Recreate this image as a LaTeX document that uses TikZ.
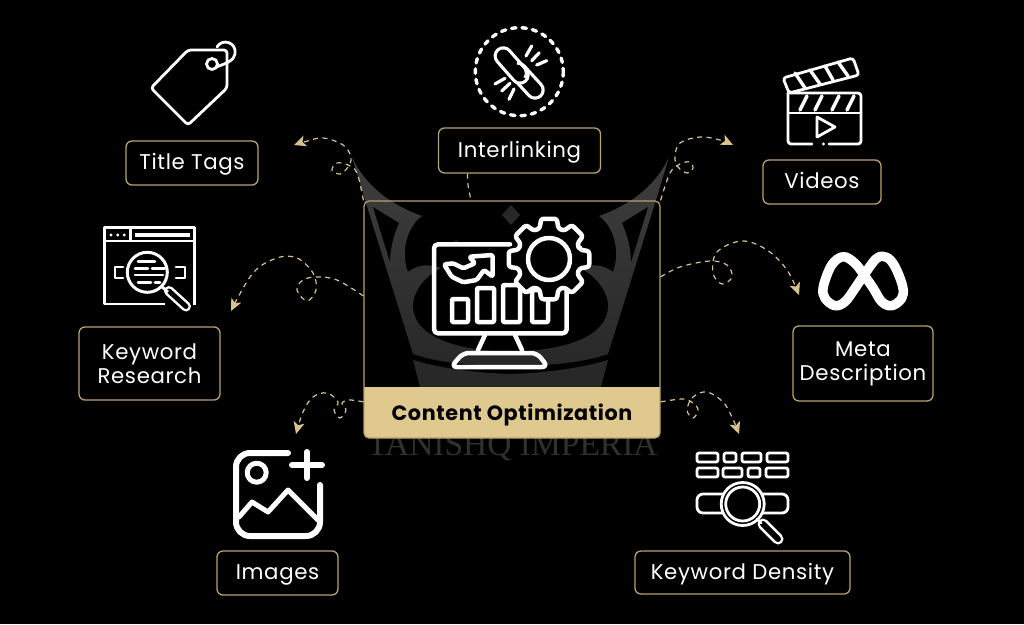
\documentclass[tikz,border=0pt]{standalone}
\usepackage{fontspec}
\setmainfont{Poppins}[LetterSpace=3]
\newfontfamily\markfont{Liberation Serif}
\usetikzlibrary{arrows.meta,positioning}
\definecolor{goldfill}{HTML}{E0C98F}
\definecolor{goldline}{HTML}{B8A26E}
\definecolor{goldlink}{HTML}{D8C38C}
\definecolor{crownlight}{HTML}{3E3E3E}
\definecolor{crowndark}{HTML}{282828}
\definecolor{markgray}{HTML}{303030}
\tikzset{
    lab/.style={draw=goldline,line width=1.3pt,rounded corners=6pt,inner sep=0pt,text=white,align=center,font=\fontsize{21.3}{24}\selectfont},
    oneline/.style={text height=16.5pt,text depth=3.5pt},
    link/.style={goldlink,line width=1.2pt,dash pattern=on 5pt off 4.5pt},
    tip/.style={-{Stealth[length=12pt,width=11pt,inset=3pt,goldlink]}},
    thin icon/.style={white,line width=2.8pt,line join=round,line cap=round},
    thick icon/.style={white,line width=4.5pt,line join=round,line cap=round},
    fat icon/.style={white,line width=6pt,line join=round,line cap=round}
}
\newcommand{\crownhalf}{
    \shade [top color=crownlight,bottom color=crowndark] (352,157) .. controls (362,180) and (385,203) .. (422,216)
        .. controls (408,226) and (400,250) .. (408,272)
        .. controls (418,264) and (430,264) .. (441,268)
        .. controls (425,276) and (412,292) .. (413,308)
        .. controls (415,335) and (450,350) .. (511,352)
        -- (511,366) .. controls (470,366) and (435,362) .. (413,354)
        -- (365,200) -- cycle;
    \fill [black] (373,207) -- (399,223) .. controls (393,236) and (390,250) .. (390,262) -- cycle;
    \fill [crowndark] (413,360) .. controls (440,368) and (475,373) .. (511,374) -- (511,387) -- (420,387) -- cycle;
    \fill [crowndark] (456,240) -- (462,246) -- (450,246) -- cycle;
}
\begin{document}
\begin{tikzpicture}[x=1pt,y=-1pt]
    \fill [black] (0,0) rectangle (1024,624);
    \crownhalf
    \begin{scope}[shift={(1021,0)},xscale=-1]
        \crownhalf
    \end{scope}
    \fill [crowndark] (511,205) -- (520,215) -- (511,225) -- (502,215) -- cycle;
    \draw (512.5,447) node [markgray,font=\markfont\fontsize{33.5}{36}\selectfont] (wmark) {TANISHQ IMPERIA};
    \fill [goldfill] (364,387) [sharp corners] -- (660,387) [rounded corners=5pt] -- (660,438) -- (364,438) [sharp corners] -- cycle;
    \draw (512,319.5) node [draw=goldline,line width=1.2pt,rounded corners=5pt,minimum width=296pt,minimum height=237pt] (mainbox) {};
    \draw (512,413) node [text=black,text height=15pt,text depth=1pt,font=\fontsize{20.7}{24}\selectfont\bfseries] (mainlab) {Content Optimization};
    \draw (192,163) node [lab,oneline,minimum width=132pt,minimum height=44pt] (titlebox) {Title Tags};
    \draw (519.5,150.5) node [lab,oneline,minimum width=162pt,minimum height=45pt] (interbox) {Interlinking};
    \draw (822,182) node [lab,oneline,minimum width=118pt,minimum height=44pt] (videobox) {Videos};
    \draw (149.5,363.5) node [lab,minimum width=141pt,minimum height=73pt] (researchbox) {Keyword\\Research};
    \draw (863,363.5) node [lab,minimum width=140pt,minimum height=75pt] (metabox) {Meta\\Description};
    \draw (277.5,573) node [lab,oneline,minimum width=121pt,minimum height=44pt] (imagebox) {Images};
    \draw (742.5,572.5) node [lab,oneline,minimum width=215pt,minimum height=43pt] (densitybox) {Keyword Density};
    \coordinate (titletip) at (294,145);
    \coordinate (videotip) at (733,145);
    \coordinate (researchtip) at (231,311);
    \coordinate (metatip) at (799,295);
    \coordinate (imagetip) at (296,434);
    \coordinate (densitytip) at (739,434);
    \draw [link,tip] plot [smooth,tension=0.6] coordinates {(mainbox.north west) (357,173) (348,165) (337,163) (332,170) (340,174) (348,167) (351,157) (343,145) (323,138) (304,142) (titletip)};
    \draw [link] plot [smooth] coordinates {(interbox.204) (468,185) (mainbox.109)};
    \draw [link,tip] plot [smooth,tension=0.6] coordinates {(mainbox.north east) (670,173) (680,164) (690,162) (693,168) (687,173) (678,167) (675,157) (680,143) (700,137) (720,140) (videotip)};
    \draw [link,tip] plot [smooth,tension=0.6] coordinates {(mainbox.171) (337,280) (317,277) (303,280) (297,290) (307,301) (316,290) (313,273) (297,258) (277,258) (253,273) (researchtip)};
    \draw [link,tip] plot [smooth,tension=0.6] coordinates {(mainbox.16) (680,267) (710,261) (727,265) (732,277) (722,284) (713,273) (717,252) (742,241) (767,250) (787,270) (metatip)};
    \draw [link,tip] plot [smooth,tension=0.6] coordinates {(mainbox.209) (350,400) (342,403) (346,410) (340,418) (334,410) (338,402) (327,393) (313,397) (303,412) (imagetip)};
    \draw [link,tip] plot [smooth,tension=0.6] coordinates {(mainbox.-29) (683,399) (693,403) (698,410) (693,418) (687,410) (693,397) (707,392) (723,402) (732,417) (densitytip)};
    \draw [thin icon,rounded corners=3pt] (151,88) -- (188,50) -- (227,50) -- (227,88) -- (188,125) -- cycle;
    \draw [thin icon] (212,64) circle (5.5);
    \draw [thin icon] (217,47) .. controls (222,38) and (237,42) .. (235,54) .. controls (234,60) and (228,63) .. (216,67);
    \draw [thin icon,dash pattern=on 4.5pt off 6pt,line width=3.4pt] (519.3,71.7) circle (44);
    \draw [white,line width=19.5pt,line cap=round] (518.3,71.7) -- (535,90);
    \draw [black,line width=13pt,line cap=round] (518.3,71.7) -- (535,90);
    \draw [white,line width=19.5pt,line cap=round] (503.3,56) -- (520,75);
    \draw [black,line width=13pt,line cap=round] (503.3,56) -- (520,75);
    \draw [white,line width=3.2pt] (517,63) .. controls (524,63) and (529,71) .. (525,78);
    \draw [thin icon,line width=3.2pt] (526,56) -- (531.7,46);
    \draw [thin icon,line width=3.2pt] (531.7,60.7) -- (539.3,52.7);
    \draw [thin icon,line width=3.2pt] (536.7,65) -- (546.7,60.7);
    \draw [thin icon,line width=3.2pt] (495,84) -- (505,78.3);
    \draw [thin icon,line width=3.2pt] (501.7,91) -- (510,83.3);
    \draw [thin icon,line width=3.2pt] (509,99.3) -- (514,89);
    \draw [thin icon,rounded corners=3pt] (788,93) -- (861,93) -- (861,144) -- (829,144);
    \draw [thin icon,rounded corners=3pt] (812,144) -- (788,144) -- (788,93);
    \fill [white] (823.5,144) circle (1.7);
    \draw [thin icon] (788,113) -- (861,113);
    \draw [thin icon,line width=3.4pt] (800,110) -- (807,96);
    \draw [thin icon,line width=3.4pt] (815,110) -- (822,96);
    \draw [thin icon,line width=3.4pt] (832,110) -- (839,96);
    \draw [thin icon,line width=3.4pt] (847,110) -- (854,96);
    \draw [thin icon,rounded corners=3pt] (783,78) -- (853,58) -- (859,75) -- (789,93) -- cycle;
    \draw [thin icon,line width=3.4pt] (795,73) -- (805,88);
    \draw [thin icon,line width=3.4pt] (810,70) -- (820,84);
    \draw [thin icon,line width=3.4pt] (825,66) -- (833,80);
    \draw [thin icon,line width=3.4pt] (838,62) -- (848,76);
    \draw [thin icon] (817,117) -- (835,127) -- (817,137) -- cycle;
    \draw [white,line width=9.5pt,line join=round] plot [smooth cycle,tension=0.6] coordinates {(823.3,286.7) (831.7,265) (843.3,256.7) (855,263.3) (864,275) (873.3,288.3) (881.7,301.7) (891.7,305.7) (901.7,298.3) (902.7,286.7) (895,266.7) (886.7,257.3) (876.7,258.3) (864,275) (855,288.3) (845,301.7) (835,305.7) (825,298.3)};
    \draw [thin icon,line cap=butt] (165,304) -- (104.5,304) -- (104.5,227.5) -- (194.5,227.5) -- (194.5,305);
    \draw [thin icon,line cap=butt] (104.5,241) -- (194.5,241);
    \draw [thin icon,line cap=butt] (130.5,227.5) -- (130.5,241);
    \fill [white] (135,233) rectangle (190,236.5);
    \fill [white] (111,235) circle (1.6);
    \fill [white] (117.7,235) circle (1.6);
    \fill [white] (124.3,235) circle (1.6);
    \draw [thin icon,fill=black,line width=3pt] (147.3,272.3) circle (20);
    \draw [white,line width=10pt,line cap=round] (169,291) -- (186,306.5);
    \draw [black,line width=5pt,line cap=round] (169,291) -- (186,306.5);
    \draw [white,line width=2.8pt] (161,286) -- (168,292);
    \draw [thin icon] (138,261.7) -- (155,261.7);
    \draw [thin icon] (135,268.3) -- (148,268.3);
    \draw [thin icon] (152,268.3) -- (165,268.3);
    \draw [thin icon] (135,275) -- (163,275);
    \draw [thin icon] (138,282.3) -- (151,282.3);
    \draw [thin icon] (155,282.3) -- (160,282.3);
    \draw [thin icon] (123,267) -- (115,267) -- (115,278) -- (123,278);
    \draw [thin icon] (176,267) -- (185,267) -- (185,278) -- (176,278);
    \draw [fat icon,rounded corners=14pt] (288,453) -- (236,453) -- (236,536) -- (320,536) -- (320,485);
    \draw [fat icon] (292,465) -- (322,465);
    \draw [fat icon] (306.7,452) -- (306.7,478);
    \draw [fat icon,line width=5pt] (256.7,472.7) circle (9.5);
    \draw [fat icon,line width=5pt] (239,517) -- (252,502) -- (268,512) -- (288,490) -- (318,520);
    \draw [thin icon,rounded corners=2pt] (697,453) rectangle (718,462);
    \draw [thin icon,rounded corners=2pt] (724,453) rectangle (736,462);
    \draw [thin icon,rounded corners=2pt] (742,453) rectangle (761,462);
    \draw [thin icon,rounded corners=2pt] (767,453) rectangle (788,462);
    \draw [thin icon,rounded corners=2pt] (697,468) rectangle (718,477);
    \draw [thin icon,rounded corners=2pt] (723,468) rectangle (742,477);
    \draw [thin icon,rounded corners=2pt] (748,468) rectangle (760,477);
    \draw [thin icon,rounded corners=2pt] (766,468) rectangle (788,477);
    \draw [thin icon,rounded corners=6pt] (697,494) rectangle (788,513);
    \draw [thin icon,fill=black] (742.7,504) circle (21.5);
    \draw [thin icon] (742.7,504) circle (17);
    \draw [white,line width=11pt,line cap=round] (763,524) -- (778,539);
    \draw [black,line width=6pt,line cap=round] (763,524) -- (778,539);
    \draw [thin icon] (757,519) -- (761,523);
    \draw [thick icon,rounded corners=4pt] (510,244.3) -- (434,244.3) -- (434,333.3) -- (566.7,333.3) -- (566.7,290);
    \draw [thick icon] (485,335) -- (478,350);
    \draw [thick icon] (515,335) -- (522,350);
    \draw [thick icon,rounded corners=6pt] (463,353) -- (537,353) -- (548,367) -- (451,367) -- cycle;
    \draw [thick icon,rounded corners=1pt] (452,299) rectangle (468,322);
    \draw [thick icon,rounded corners=1pt] (477,288) rectangle (494,322);
    \draw [thick icon,rounded corners=1pt] (503,285) rectangle (520,322);
    \draw [thick icon,rounded corners=1pt] (532,290) rectangle (548,322);
    \draw [thick icon,rounded corners=1.5pt] (444,264.3) -- (453.3,263.3) -- (463.3,268.3) -- (475,263.3) -- (469.3,256.7) -- (492.7,255) -- (492.7,276.7) -- (484,270) -- (476.7,280) -- (463.3,282.3) -- (451.7,276.7) -- cycle;
    \begin{scope}[shift={(549,259)}]
        \draw [thick icon,fill=black,rounded corners=2.5pt] (-17:32) \foreach \a in {0,45,...,315} {-- (\a-17:32) -- (\a-11:41) -- (\a+11:41) -- (\a+17:32)} -- cycle;
        \draw [thick icon] (0,0) circle (21);
    \end{scope}
\end{tikzpicture}
\end{document}
